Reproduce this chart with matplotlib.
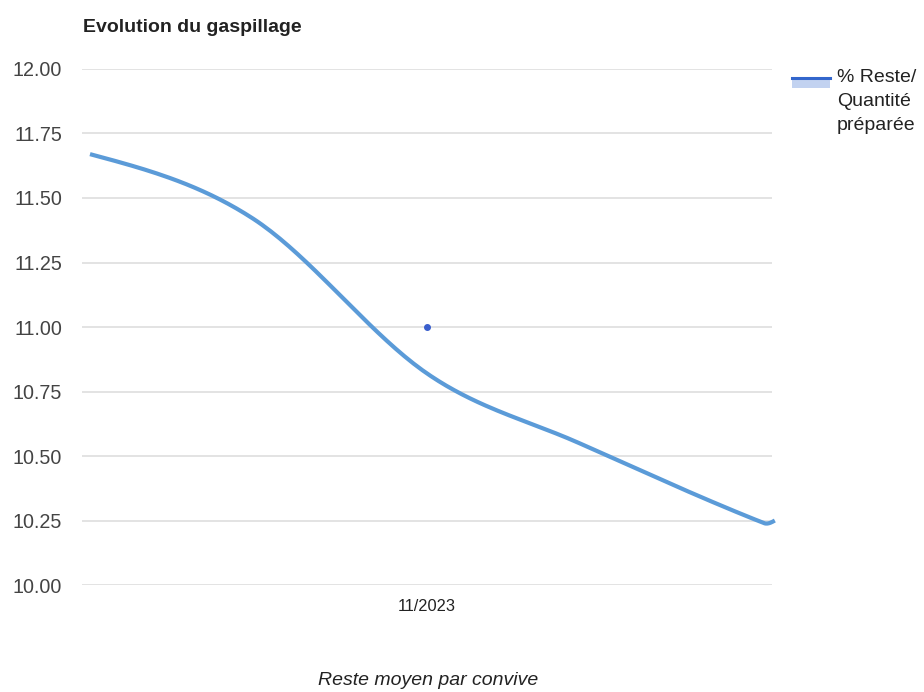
import matplotlib.pyplot as plt
import matplotlib.dates as mdates
from matplotlib.lines import Line2D
from matplotlib.patches import Rectangle
import numpy as np
import datetime as dt

plt.rcParams['font.family'] = ['Liberation Sans', 'DejaVu Sans']

# data
dates = ['2023-10-01', '2023-10-16', '2023-11-01', '2023-11-15', '2023-12-02', '2023-12-03']
reste_pct = [11.67, 11.42, 10.82, 10.55, 10.24, 10.25]
dot_dates = ['2023-11-01']
dot_values = [11.00]
y_ticks = [10.00, 10.25, 10.50, 10.75, 11.00, 11.25, 11.50, 11.75, 12.00]
x_tick_dates = ['2023-11-01']
legend_lines = ['% Reste/', 'Quantité', 'préparée']


def smooth(x, y, n=40):
    # cubic hermite through the points, like the "function" curve of the original
    x = np.asarray(x, float)
    y = np.asarray(y, float)
    k = len(x)
    m = np.zeros(k)
    for i in range(1, k - 1):
        m[i] = (y[i + 1] - y[i - 1]) / (x[i + 1] - x[i - 1])
    s0 = (y[1] - y[0]) / (x[1] - x[0])
    s1 = (y[-1] - y[-2]) / (x[-1] - x[-2])
    m[0] = (3 * s0 - m[1]) / 2
    m[-1] = (3 * s1 - m[-2]) / 2
    xs, ys = [], []
    for i in range(k - 1):
        h = x[i + 1] - x[i]
        t = np.linspace(0, 1, n)
        h00 = 2 * t**3 - 3 * t**2 + 1
        h10 = t**3 - 2 * t**2 + t
        h01 = -2 * t**3 + 3 * t**2
        h11 = t**3 - t**2
        xs.append(x[i] + t * h)
        ys.append(h00 * y[i] + h10 * h * m[i] + h01 * y[i + 1] + h11 * h * m[i + 1])
    return np.concatenate(xs), np.concatenate(ys)


def main():
    fig = plt.figure(figsize=(9.24, 6.92), dpi=100)
    ax = fig.add_axes([0.0887, 0.1546, 0.7468, 0.7457])

    xd = mdates.date2num([dt.date.fromisoformat(d) for d in dates])
    xs, ys = smooth(xd, reste_pct)
    ax.plot(xs, ys, color='#5b9bd8', lw=3, solid_capstyle='butt', zorder=3, clip_on=False)

    xdot = mdates.date2num([dt.date.fromisoformat(d) for d in dot_dates])
    ax.plot(xdot, dot_values, 'o', color='#3a5fcd', ms=4, zorder=4)

    xt = mdates.date2num([dt.date.fromisoformat(d) for d in x_tick_dates])
    center = xt[0]
    ax.set_xlim(center - 31.74, center + 31.74)
    ax.set_ylim(10, 12)
    ax.set_yticks(y_ticks)
    ax.set_yticklabels([f'{v:.2f}' for v in y_ticks])
    ax.set_xticks(xt)
    ax.set_xticklabels([dt.date.fromisoformat(d).strftime('%m/%Y') for d in x_tick_dates])

    ax.grid(True, axis='y', color='#e0e0e0', lw=1.3)
    ax.set_axisbelow(True)
    for sp in ax.spines.values():
        sp.set_visible(False)
    ax.tick_params(axis='both', length=0)
    ax.tick_params(axis='y', labelsize=14.2, labelcolor='#444444', pad=14.4)
    ax.tick_params(axis='x', labelsize=11.8, labelcolor='#222222', pad=10)

    fig.text(0.09, 0.960, 'Evolution du gaspillage', fontsize=14, fontweight='bold',
             color='#222222', va='center', ha='left')
    fig.text(0.463, 0.017, 'Reste moyen par convive', fontsize=14, style='italic',
             color='#222222', ha='center', va='center')

    # legend drawn by hand, line over a pale box like the original
    fig.add_artist(Rectangle((792 / 924, 1 - 88 / 692), 38 / 924, 9 / 692,
                             transform=fig.transFigure, color='#c2d2f0', lw=0))
    fig.add_artist(Line2D([792 / 924, 830 / 924], [1 - 78 / 692, 1 - 78 / 692],
                          transform=fig.transFigure, color='#3366cc', lw=2.2))
    for i, txt in enumerate(legend_lines):
        fig.text(837 / 924, 1 - (78 + 23.5 * i) / 692, txt, fontsize=14, color='#222222',
                 va='center', ha='left')

    plt.savefig('out.png', dpi=100)
    plt.close()


if __name__ == '__main__':
    main()
